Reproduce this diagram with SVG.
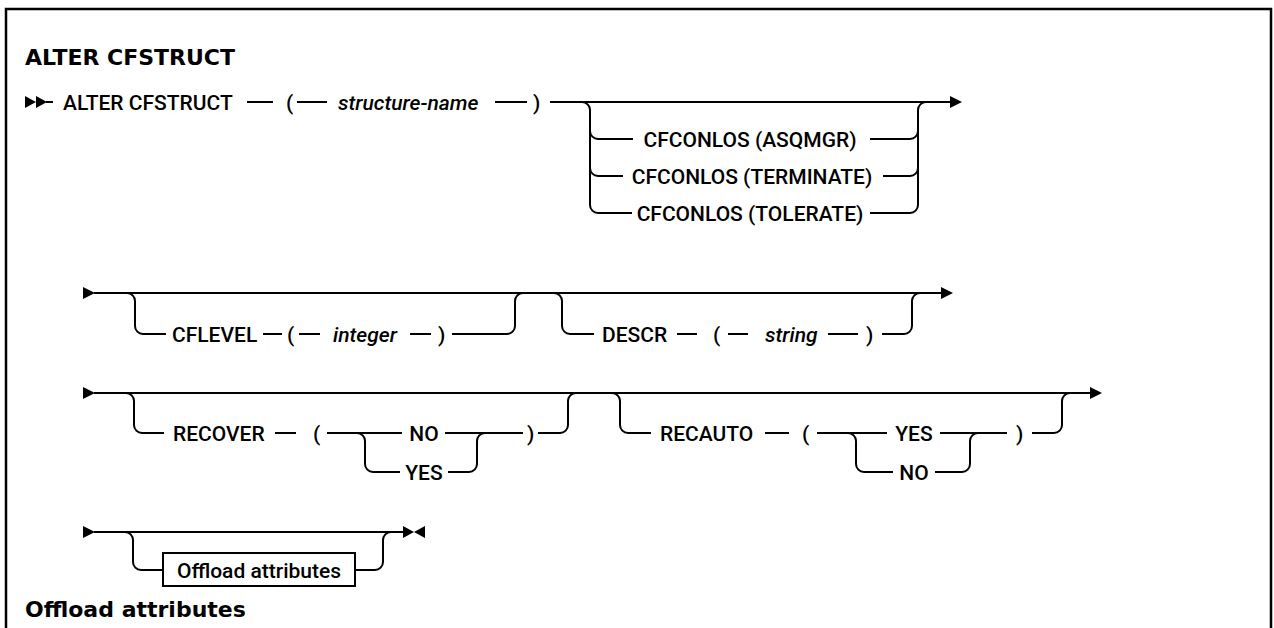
<svg xmlns="http://www.w3.org/2000/svg" width="1274" height="628" viewBox="0 0 1274 628">
<style>
.t{font-family:Roboto,"Liberation Sans",sans-serif;font-size:21px;font-weight:500;fill:#000}
.i{font-style:italic}
.h{font-family:"DejaVu Sans","Liberation Sans",sans-serif;font-weight:bold;font-size:22px;fill:#000}
.ln{fill:none;stroke:#000;stroke-width:2}
.ah{fill:#000}
.box{fill:#fff;stroke:#000;stroke-width:2}
</style>
<rect width="1274" height="628" fill="#fff"/>
<rect x="6" y="9" width="1265" height="700" fill="none" stroke="#000" stroke-width="2.5"/>
<text class="h" x="25" y="65">ALTER CFSTRUCT</text>
<text class="h" x="25" y="617">Offload attributes</text>

<g id="connectors">
  <!-- row 1 -->
  <polygon class="ah" points="25,96 36,102 25,108"/>
  <polygon class="ah" points="36,96 47,102 36,108"/>
  <path class="ln" d="M46 102H53M247 102H273M297 102H327M495 102H527M550 102H951"/>
  <polygon class="ah" points="950,96 962,102 950,108"/>
  <path class="ln" d="M582 102A8 8 0 0 1 590 110V205A8 8 0 0 0 598 213H632M590 131A8 8 0 0 0 598 139H633M590 168A8 8 0 0 0 598 176H623"/>
  <path class="ln" d="M870 139H910A8 8 0 0 0 918 131M883 176H910A8 8 0 0 0 918 168M870 213H910A8 8 0 0 0 918 205V110A8 8 0 0 1 926 102"/>
  <!-- row 2 -->
  <polygon class="ah" points="83,287 95,293 83,299"/>
  <path class="ln" d="M94 293H942"/>
  <polygon class="ah" points="941,287 953,293 941,299"/>
  <path class="ln" d="M127 293A8 8 0 0 1 135 301V326A8 8 0 0 0 143 334H166M263 334H282M299 334H320M410 334H431M452 334H507A8 8 0 0 0 515 326V301A8 8 0 0 1 523 293"/>
  <path class="ln" d="M554 293A8 8 0 0 1 562 301V326A8 8 0 0 0 570 334H594M677 334H697M728 334H748M828 334H858M882 334H904A8 8 0 0 0 912 326V301A8 8 0 0 1 920 293"/>
  <!-- row 3 -->
  <polygon class="ah" points="83,387 95,393 83,399"/>
  <path class="ln" d="M94 393H1091"/>
  <polygon class="ah" points="1090,387 1102,393 1090,399"/>
  <path class="ln" d="M126 393A8 8 0 0 1 134 401V425A8 8 0 0 0 142 433H164M275 433H296M327 433H402M445 433H523M538 433H560A8 8 0 0 0 568 425V401A8 8 0 0 1 576 393"/>
  <path class="ln" d="M357 433A8 8 0 0 1 365 441V464A8 8 0 0 0 373 472H400M448 472H469A8 8 0 0 0 477 464V441A8 8 0 0 1 485 433"/>
  <path class="ln" d="M612 393A8 8 0 0 1 620 401V425A8 8 0 0 0 628 433H651M765 433H789M817 433H887M940 433H1007M1032 433H1054A8 8 0 0 0 1062 425V401A8 8 0 0 1 1070 393"/>
  <path class="ln" d="M848 433A8 8 0 0 1 856 441V464A8 8 0 0 0 864 472H893M935 472H962A8 8 0 0 0 970 464V441A8 8 0 0 1 978 433"/>
  <!-- row 4 -->
  <polygon class="ah" points="83,526 95,532 83,538"/>
  <path class="ln" d="M94 532H404"/>
  <polygon class="ah" points="403,526 414,532 403,538"/>
  <polygon class="ah" points="425,526 414,532 425,538"/>
  <path class="ln" d="M125 532A8 8 0 0 1 133 540V562A8 8 0 0 0 141 570H163M355 570H375A8 8 0 0 0 383 562V540A8 8 0 0 1 391 532"/>
</g>

<g id="n-alter"><text class="t" x="63" y="109.5">ALTER CFSTRUCT</text></g>
<g id="n-lp1"><text class="t" x="286" y="109.5">(</text></g>
<g id="n-structname"><text class="t i" x="338" y="109.5">structure-name</text></g>
<g id="n-rp1"><text class="t" x="533" y="109.5">)</text></g>
<g id="n-asqmgr"><text class="t" x="750" y="146.5" text-anchor="middle">CFCONLOS (ASQMGR)</text></g>
<g id="n-terminate"><text class="t" x="752" y="183.5" text-anchor="middle">CFCONLOS (TERMINATE)</text></g>
<g id="n-tolerate"><text class="t" x="750" y="220.5" text-anchor="middle">CFCONLOS (TOLERATE)</text></g>

<g id="n-cflevel"><text class="t" x="172" y="341.5">CFLEVEL</text></g>
<g id="n-lp2"><text class="t" x="287" y="341.5">(</text></g>
<g id="n-integer"><text class="t i" x="365" y="341.5" text-anchor="middle">integer</text></g>
<g id="n-rp2"><text class="t" x="438" y="341.5">)</text></g>
<g id="n-descr"><text class="t" x="602" y="341.5">DESCR</text></g>
<g id="n-lp3"><text class="t" x="713" y="341.5">(</text></g>
<g id="n-string"><text class="t i" x="765" y="341.5">string</text></g>
<g id="n-rp3"><text class="t" x="866" y="341.5">)</text></g>

<g id="n-recover"><text class="t" x="173" y="440.5">RECOVER</text></g>
<g id="n-lp4"><text class="t" x="313" y="440.5">(</text></g>
<g id="n-rec-no"><text class="t" x="424" y="440.5" text-anchor="middle">NO</text></g>
<g id="n-rec-yes"><text class="t" x="424" y="479.5" text-anchor="middle">YES</text></g>
<g id="n-rp4"><text class="t" x="527" y="440.5">)</text></g>
<g id="n-recauto"><text class="t" x="660" y="440.5">RECAUTO</text></g>
<g id="n-lp5"><text class="t" x="802" y="440.5">(</text></g>
<g id="n-ra-yes"><text class="t" x="914" y="440.5" text-anchor="middle">YES</text></g>
<g id="n-ra-no"><text class="t" x="914" y="479.5" text-anchor="middle">NO</text></g>
<g id="n-rp5"><text class="t" x="1016" y="440.5">)</text></g>

<g id="n-offload"><rect class="box" x="163" y="553" width="192" height="33"/><text class="t" x="259" y="577.5" text-anchor="middle">Offload attributes</text></g>
</svg>
